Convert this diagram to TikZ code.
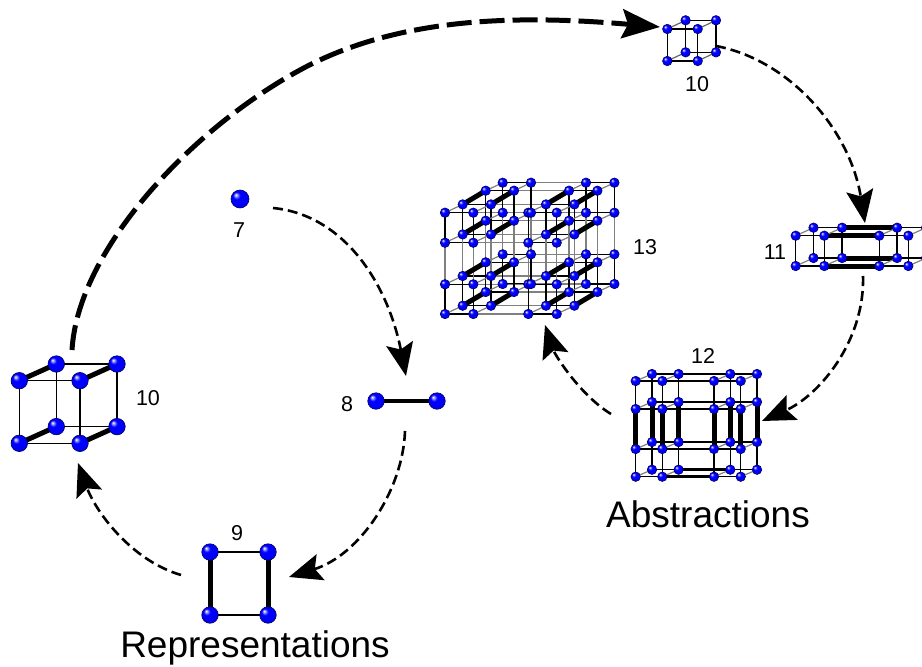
\documentclass[tikz,border=0pt]{standalone}
\usepackage{fontspec}
\setmainfont{Liberation Sans}
\usetikzlibrary{arrows.meta}
\pgfdeclarelayer{back}
\pgfdeclarelayer{lines}
\pgfsetlayers{back,lines,main}
\pgfdeclareradialshading{blueball}{\pgfpoint{-12bp}{12bp}}{%
 rgb(0bp)=(1,1,1);rgb(5bp)=(0.5,0.5,1);rgb(10bp)=(0,0,1);rgb(42bp)=(0,0,0.95);rgb(50bp)=(0,0,0.5)}
\definecolor{ballrim}{rgb}{0,0,0.35}
\tikzset{
 ballbase/.style={circle,inner sep=0pt,shading=blueball,draw=ballrim,line width=0.6pt},
 ballS/.style={ballbase,minimum size=9.5pt},
 ballL/.style={ballbase,minimum size=16.5pt},
 thin edge/.style={draw=black,line width=1.5pt},
 hair edge/.style={draw=black,line width=1.3pt},
 gray edge/.style={draw=black!50,line width=1.2pt},
 grayd edge/.style={draw=black!60,line width=1.2pt},
 medium edge/.style={draw=black,line width=2.6pt},
 heavy edge/.style={draw=black,line width=5pt},
 flow/.style={line width=2.6pt,dash pattern=on 10pt off 5pt,-{Stealth[length=33pt,width=27pt,inset=6pt]}},
 bigflow/.style={line width=5pt,dash pattern=on 25pt off 8pt,-{Stealth[length=38pt,width=29pt,inset=6pt]}},
 numlabel/.style={font=\fontsize{21.5}{24}\selectfont,inner sep=0pt},
 titlelabel/.style={font=\fontsize{37}{42}\selectfont,inner sep=0pt},
}
% prefix, x list, y list, depth offsets, ball style
\newcommand\ballgrid[5]{%
 \foreach \dx/\dy [count=\k] in {#4}
  \foreach \y [count=\j] in {#3}
   \foreach \x [count=\i] in {#2}
    \node[#5] (#1-\i-\j-\k) at ({\x+\dx},{\y+\dy}) {};}
% prefix, ny, nz, list of i/i+1/style
\newcommand\xedges[4]{\begin{pgfonlayer}{lines}
 \foreach \a/\b/\s in {#4}\foreach \j in {1,...,#2}\foreach \k in {1,...,#3}
  \path[\s] (#1-\a-\j-\k.center) -- (#1-\b-\j-\k.center);\end{pgfonlayer}}
\newcommand\yedges[4]{\begin{pgfonlayer}{lines}
 \foreach \a/\b/\s in {#4}\foreach \i in {1,...,#2}\foreach \k in {1,...,#3}
  \path[\s] (#1-\i-\a-\k.center) -- (#1-\i-\b-\k.center);\end{pgfonlayer}}
\newcommand\zedges[4]{\begin{pgfonlayer}{lines}
 \foreach \a/\b/\s in {#4}\foreach \i in {1,...,#2}\foreach \j in {1,...,#3}
  \path[\s] (#1-\i-\j-\a.center) -- (#1-\i-\j-\b.center);\end{pgfonlayer}}
\begin{document}
\begin{tikzpicture}[x=1pt,y=-1pt]
\clip (0,0) rectangle (922,667);
\begin{pgfonlayer}{back}\fill[white] (0,0) rectangle (922,667);\end{pgfonlayer}
% 7
\node[ballbase,minimum size=18pt] (p7) at (240,199) {};
\node[numlabel] (t7) at (239,230) {7};
% 8
\node[ballL] (p8a) at (376,401) {};
\node[ballL] (p8b) at (437,401) {};
\begin{pgfonlayer}{lines}\draw[line width=4pt] (p8a.center) -- (p8b.center);\end{pgfonlayer}
\node[numlabel] (t8) at (347,404) {8};
% 9
\ballgrid{sq}{210,268}{552,615}{0/0}{ballL}
\xedges{sq}{2}{1}{1/2/thin edge}
\yedges{sq}{2}{1}{1/2/heavy edge}
\node[numlabel] (t9) at (237,533) {9};
% 10 large
\ballgrid{big}{19.3,80}{380.7,443.3}{0/0,37/-16.7}{ballL}
\xedges{big}{2}{2}{1/2/thin edge}
\yedges{big}{2}{2}{1/2/thin edge}
\zedges{big}{2}{2}{1/2/heavy edge}
\node[numlabel] (t10) at (148,398) {10};
% 10 small
\ballgrid{cu}{667.3,697.7}{29,61}{0/0,18.3/-8.7}{ballS}
\xedges{cu}{2}{2}{1/2/thin edge}
\yedges{cu}{2}{2}{1/2/thin edge}
\zedges{cu}{2}{2}{1/2/grayd edge}
\node[numlabel] (t10b) at (697,84) {10};
% 11
\ballgrid{el}{795.7,824.3,879.3,908.3}{235.7,266}{0/0,17.8/-8}{ballS}
\xedges{el}{2}{2}{1/2/hair edge,2/3/heavy edge,3/4/hair edge}
\yedges{el}{4}{2}{1/2/hair edge}
\zedges{el}{4}{2}{1/2/gray edge}
\node[numlabel] (t11) at (775,252) {11};
% 12
\ballgrid{tw}{635.7,662.3,714,740.7}{381,409,449,476.7}{0/0,16.3/-7}{ballS}
\xedges{tw}{4}{2}{1/2/hair edge,2/3/medium edge,3/4/hair edge}
\yedges{tw}{4}{2}{1/2/hair edge,2/3/heavy edge,3/4/hair edge}
\zedges{tw}{4}{4}{1/2/gray edge}
\node[numlabel] (t12) at (703,356) {12};
% 13
\ballgrid{th}{445,473.3,528.3,556.7}{212.7,242.7,284.3,314}{0/0,17.7/-8.3,40.7/-22,57.7/-30}{ballS}
\xedges{th}{4}{4}{1/2/hair edge,2/3/gray edge,3/4/hair edge}
\yedges{th}{4}{4}{1/2/hair edge,2/3/gray edge,3/4/hair edge}
\zedges{th}{4}{4}{1/2/gray edge,2/3/heavy edge,3/4/gray edge}
\node[numlabel] (t13) at (645,247) {13};
% titles
\node[titlelabel] (abs) at (708,514) {Abstractions};
\node[titlelabel] (rep) at (255,648) {Representations};
% connector ends
\coordinate (s7) at (273,208);   \coordinate (e8) at (406,376);
\coordinate (s8) at (405,431);   \coordinate (e9) at (289,577);
\coordinate (s9) at (181,575);   \coordinate (e10) at (78,463);
\coordinate (s10) at (72,350);   \coordinate (e10b) at (660,27);
\coordinate (s10b) at (716,46);  \coordinate (e11) at (865,223);
\coordinate (s11) at (863,276);  \coordinate (e12) at (762,421);
\coordinate (s12) at (611,414);  \coordinate (e13) at (545,325);
\coordinate (m10) at (300,70);
\draw[flow] (s7) .. controls (345,215) and (388,285) .. (e8);
\draw[flow] (s8) .. controls (403,490) and (360,555) .. (e9);
\draw[flow] (s9) .. controls (130,560) and (95,510) .. (e10);
\draw[bigflow] (s10) .. controls (78,250) and (190,130) .. (m10) .. controls (399,16) and (520,15) .. (e10b);
\draw[flow] (s10b) .. controls (790,60) and (850,130) .. (e11);
\draw[flow] (s11) .. controls (865,340) and (820,395) .. (e12);
\draw[flow] (s12) .. controls (580,395) and (555,355) .. (e13);
\end{tikzpicture}
\end{document}
